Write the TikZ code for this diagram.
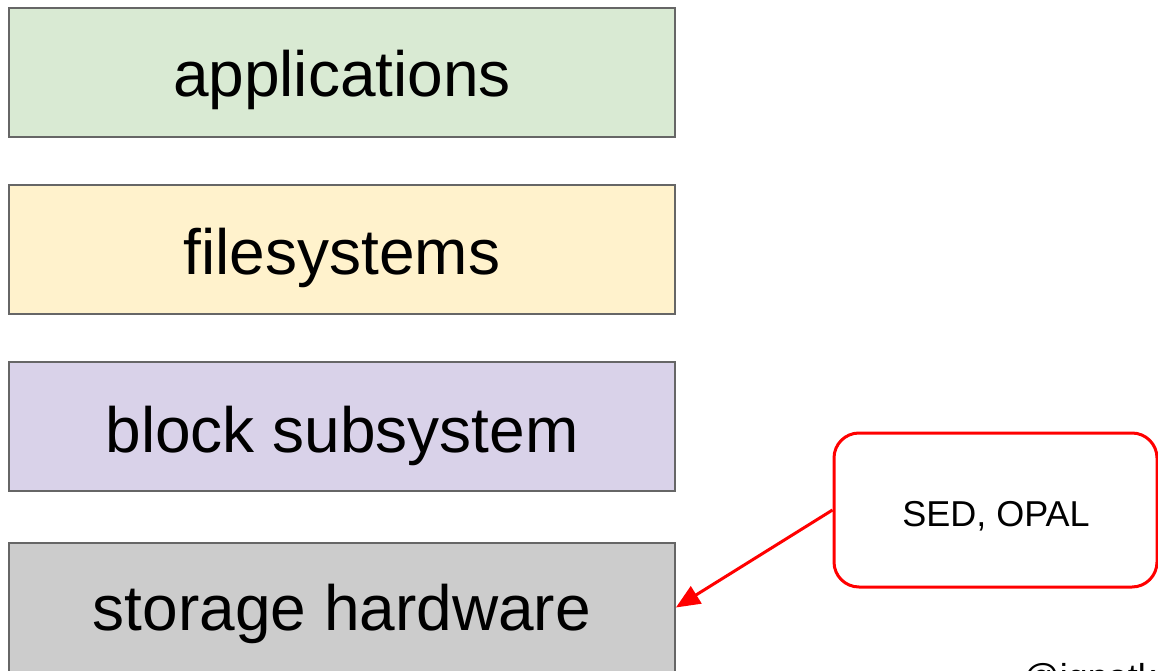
\documentclass[tikz,border=0pt]{standalone}
\usepackage{fontspec}
\setmainfont{Liberation Sans}
\usetikzlibrary{arrows.meta}
\definecolor{gA}{HTML}{D9EAD3}
\definecolor{gB}{HTML}{FFF2CC}
\definecolor{gC}{HTML}{D9D2E9}
\definecolor{gD}{HTML}{CCCCCC}
\definecolor{bord}{HTML}{666666}
\tikzset{
  layer/.style={draw=bord, line width=1.8pt, minimum width=666pt, minimum height=129pt, inner sep=0pt,
    font=\fontsize{64}{70}\selectfont, text depth=0pt, text height=0pt, yshift=0pt},
  layertext/.style={font=\fontsize{64}{70}\selectfont, anchor=base, inner sep=0pt},
  callout/.style={draw=red, line width=3pt, rounded corners=25pt, fill=white, minimum width=323pt,
    minimum height=154pt, inner sep=0pt, font=\fontsize{36}{40}\selectfont},
  redarrow/.style={draw=red, line width=3pt, -{Triangle[length=24pt,width=20pt]}}
}
\begin{document}
\begin{tikzpicture}[x=1pt,y=-1pt]
\clip (0,0) rectangle (1158,671);
\fill[white] (0,0) rectangle (1158,671);
\node[layer, fill=gA] (apps) at (342,72.5) {};
\node[layertext] (appsT) at (342,97) {applications};
\node[layer, fill=gB] (fs) at (342,249.5) {};
\node[layertext] (fsT) at (342,274) {filesystems};
\node[layer, fill=gC] (blk) at (342,426.5) {};
\node[layertext] (blkT) at (342,452) {block subsystem};
\node[layer, fill=gD] (hw) at (342,607.5) {};
\node[layertext] (hwT) at (342,630) {storage hardware};
\node[callout] (sed) at (995.5,510) {};
\node[anchor=base, inner sep=0pt, font=\fontsize{36}{40}\selectfont] (sedT) at (996,526) {SED, OPAL};
\draw[redarrow] (sed.west) -- (hw.east);
\node[anchor=base west, inner sep=0pt, font=\fontsize{36}{40}\selectfont] (handle) at (1023,689) {@ignatkn};
\end{tikzpicture}
\end{document}
